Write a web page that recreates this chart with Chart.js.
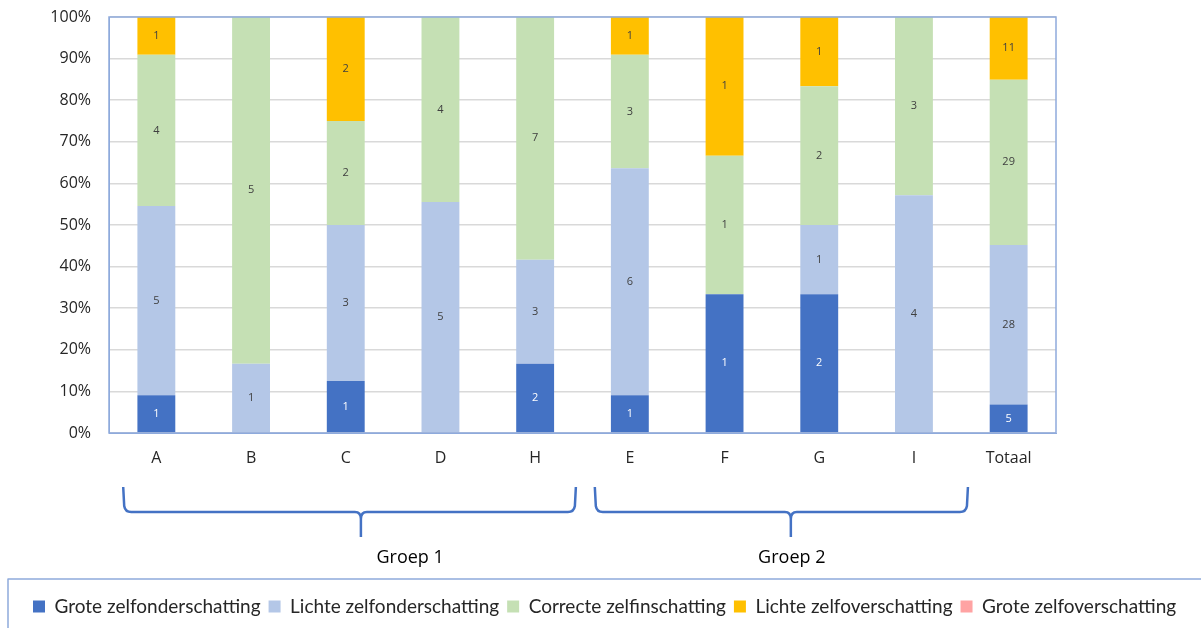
<!DOCTYPE html>
<html><head><meta charset="utf-8">
<script src="https://cdn.jsdelivr.net/npm/chart.js@4.4.1/dist/chart.umd.min.js"></script>
<style>html,body{margin:0;padding:0;background:#fff}#wrap{width:1201px;height:628px}</style>
</head><body><div id="wrap"><canvas id="c" width="1201" height="628"></canvas></div>
<script>
const categories = ['A','B','C','D','H','E','F','G','I','Totaal'];
const groteOnder   = [1,0,1,0,2,1,1,2,0,5];
const lichteOnder  = [5,1,3,5,3,6,0,1,4,28];
const correct      = [4,5,2,4,7,3,1,2,3,29];
const lichteOver   = [1,0,2,0,0,1,1,1,0,11];
const groteOver    = [0,0,0,0,0,0,0,0,0,0];
const seriesNames = ['Grote zelfonderschatting','Lichte zelfonderschatting','Correcte zelfinschatting','Lichte zelfoverschatting','Grote zelfoverschatting'];
const yTicks = [0,10,20,30,40,50,60,70,80,90,100];
const groups = [{label:'Groep 1', from:-0.35, to:4.43, mid:2.16, text:2.68},
                {label:'Groep 2', from:4.63, to:8.57, mid:6.70, text:6.71}];

const counts = [groteOnder, lichteOnder, correct, lichteOver, groteOver];
const colors = ['#4472C4','#B4C7E7','#C5E0B4','#FFC000','#FFA3A3'];
const totals = categories.map((_,i)=>counts.reduce((s,a)=>s+a[i],0));
const datasets = counts.map((arr,k)=>({
  label: seriesNames[k],
  data: arr.map((v,i)=>v/totals[i]*100),
  raw: arr,
  backgroundColor: colors[k],
  borderWidth: 0,
  categoryPercentage: 1,
  barPercentage: 0.4
}));

const FONT = '"Open Sans", sans-serif';
const overlay = {
  id:'overlay',
  afterDatasetsDraw(chart){
    const ctx = chart.ctx;
    ctx.save();
    ctx.font = '11px ' + FONT;
    ctx.textAlign = 'center'; ctx.textBaseline = 'middle';
    chart.data.datasets.forEach((ds,k)=>{
      const meta = chart.getDatasetMeta(k);
      meta.data.forEach((bar,i)=>{
        const v = ds.raw[i];
        if (!v) return;
        ctx.fillStyle = k===0 ? '#ffffff' : '#404040';
        ctx.fillText(String(v), bar.x, (bar.y+bar.base)/2);
      });
    });
    ctx.restore();
  },
  afterDraw(chart){
    const ctx = chart.ctx, a = chart.chartArea, xs = chart.scales.x;
    ctx.save();
    ctx.strokeStyle = '#8FAADC'; ctx.lineWidth = 1.5;
    ctx.strokeRect(a.left, a.top, a.right-a.left, a.bottom-a.top);
    const catW = xs.width / categories.length;
    const px = v => xs.left + (v+0.5)*catW;
    ctx.strokeStyle = '#4472C4'; ctx.lineWidth = 2.5; ctx.lineJoin='round'; ctx.lineCap='butt';
    const yTop = 487, yH = 512, yTip = 537;
    groups.forEach(g=>{
      const x0 = px(g.from), x1 = px(g.to), xm = px(g.mid);
      ctx.beginPath();
      ctx.moveTo(x0, yTop);
      ctx.lineTo(x0+1, yH-6);
      ctx.quadraticCurveTo(x0+2, yH, x0+8, yH);
      ctx.lineTo(xm-6, yH);
      ctx.quadraticCurveTo(xm, yH, xm, yH+7);
      ctx.lineTo(xm, yTip);
      ctx.moveTo(xm, yH+7);
      ctx.quadraticCurveTo(xm, yH, xm+6, yH);
      ctx.lineTo(x1-8, yH);
      ctx.quadraticCurveTo(x1-2, yH, x1-1, yH-6);
      ctx.lineTo(x1, yTop);
      ctx.stroke();
      ctx.fillStyle = '#000000';
      ctx.font = '18px ' + FONT;
      ctx.textAlign='center'; ctx.textBaseline='middle';
      ctx.fillText(g.label, px(g.text), 558);
    });
    ctx.strokeStyle = '#8FAADC'; ctx.lineWidth = 1.5;
    ctx.strokeRect(8, 579, 1250, 100);
    ctx.restore();
  }
};

new Chart(document.getElementById('c'), {
  type:'bar',
  data:{labels:categories, datasets},
  plugins:[overlay],
  options:{
    responsive:false, animation:false,
    layout:{padding:{left:25,right:0,top:17,bottom:2}},
    plugins:{
      tooltip:{enabled:false},
      legend:{position:'bottom', align:'start', labels:{boxWidth:12, boxHeight:12, padding:8, color:'#262626', font:{family:'Lato, sans-serif', size:19}}}
    },
    scales:{
      x:{stacked:true,
         grid:{display:false, drawTicks:false},
         border:{display:true,color:'#8FAADC'},
         ticks:{padding:16,color:'#262626',font:{family:FONT,size:16}},
         afterFit(s){ s.height = 156; }
      },
      y:{stacked:true,min:0,max:100,
         afterBuildTicks(s){ s.ticks = yTicks.map(v=>({value:v})); },
         grid:{color:'#D9D9D9', drawTicks:false, lineWidth:1.5},
         border:{display:true,color:'#8FAADC'},
         ticks:{padding:18,color:'#262626',font:{family:FONT,size:16},callback:v=>v+'%'},
         afterFit(s){ s.width = 84; s.paddingTop = 0; s.paddingBottom = 0; }
      },
      yR:{position:'right', display:true, min:0, max:100,
         grid:{display:false, drawTicks:false}, border:{display:false},
         ticks:{display:false},
         afterFit(s){ s.width = 145; s.paddingTop = 0; s.paddingBottom = 0; }
      }
    }
  }
});
</script></body></html>
